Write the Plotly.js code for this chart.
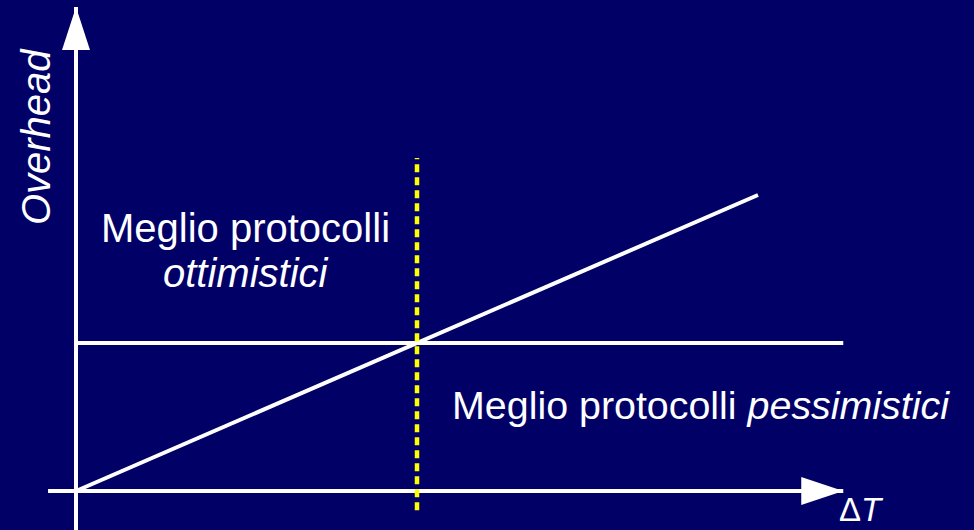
<!DOCTYPE html>
<html>
<head>
<meta charset="utf-8">
<script src="https://cdn.plot.ly/plotly-3.0.1.min.js"></script>
<style>
  html, body { margin: 0; padding: 0; background: #000066; }
  #chart { width: 974px; height: 530px; }
</style>
</head>
<body>
<div id="chart"></div>
<script>
// Overhead vs. ΔT: optimistic protocols (overhead grows with ΔT)
// against pessimistic protocols (constant overhead).
const deltaT = [0, 2];
const overheadOptimistic = [0, 2];
const deltaTFlat = [0, 2.25];
const overheadPessimistic = [1, 1];
const breakEvenX = [1, 1];
const breakEvenY = [-0.13, 2.25];

// Extents of the two drawn axes (arrow tips at the far ends)
const xAxisSpan = [-0.082, 2.25];
const yAxisSpan = [-0.2635, 3.27];

const xRange = [-76 / 341, 898 / 341];
const yRange = [-39 / 148, 491 / 148];

const white = '#ffffff';
const font = 'Liberation Sans, Arial, sans-serif';

const traces = [
  { x: xAxisSpan, y: [0, 0], mode: 'lines', line: { color: white, width: 4 }, hoverinfo: 'skip' },
  { x: [0, 0], y: yAxisSpan, mode: 'lines', line: { color: white, width: 4 }, hoverinfo: 'skip' },
  { x: deltaTFlat, y: overheadPessimistic, mode: 'lines', line: { color: white, width: 4 }, name: 'pessimistici' },
  { x: deltaT, y: overheadOptimistic, mode: 'lines', line: { color: white, width: 4 }, name: 'ottimistici' },
  { x: breakEvenX, y: breakEvenY, mode: 'lines', line: { color: '#ffff00', width: 4.5, dash: '8px,5px' }, name: 'soglia' }
];

const shapes = [
  // arrowhead on the ΔT axis
  { type: 'path', xref: 'x', yref: 'y', xsizemode: 'pixel', ysizemode: 'pixel',
    xanchor: xAxisSpan[1], yanchor: 0,
    path: 'M0,0 L-42,14 L-42,-14 Z', fillcolor: white, line: { width: 0 } },
  // arrowhead on the Overhead axis
  { type: 'path', xref: 'x', yref: 'y', xsizemode: 'pixel', ysizemode: 'pixel',
    xanchor: 0, yanchor: yAxisSpan[1],
    path: 'M0,0 L-14,-43 L14,-43 Z', fillcolor: white, line: { width: 0 } }
];

const annotations = [
  { text: 'Meglio protocolli', x: 0.4985, y: 1.777, xref: 'x', yref: 'y',
    xanchor: 'center', yanchor: 'middle', showarrow: false,
    font: { family: font, size: 40, color: white } },
  { text: '<i>ottimistici</i>', x: 0.4985, y: 1.473, xref: 'x', yref: 'y',
    xanchor: 'center', yanchor: 'middle', showarrow: false,
    font: { family: font, size: 40, color: white } },
  { text: 'Meglio protocolli <i>pessimistici</i>', x: 1.097, y: 0.58, xref: 'x', yref: 'y',
    xanchor: 'left', yanchor: 'middle', showarrow: false,
    font: { family: font, size: 39.4, color: white } },
  { text: 'Δ<i>T</i>', x: 2.232, y: -0.128, xref: 'x', yref: 'y',
    xanchor: 'left', yanchor: 'middle', showarrow: false,
    font: { family: font, size: 33, color: white } },
  { text: '<i>Overhead</i>', x: -0.117, y: 2.392, xref: 'x', yref: 'y',
    xanchor: 'center', yanchor: 'middle', textangle: -90, showarrow: false,
    font: { family: font, size: 40, color: white } }
];

const layout = {
  width: 974, height: 530,
  margin: { l: 0, r: 0, t: 0, b: 0, pad: 0 },
  paper_bgcolor: '#000066', plot_bgcolor: '#000066',
  showlegend: false,
  xaxis: { range: xRange, visible: false, fixedrange: true },
  yaxis: { range: yRange, visible: false, fixedrange: true },
  shapes: shapes,
  annotations: annotations
};

Plotly.newPlot('chart', traces, layout, { displayModeBar: false, staticPlot: true });
</script>
</body>
</html>
